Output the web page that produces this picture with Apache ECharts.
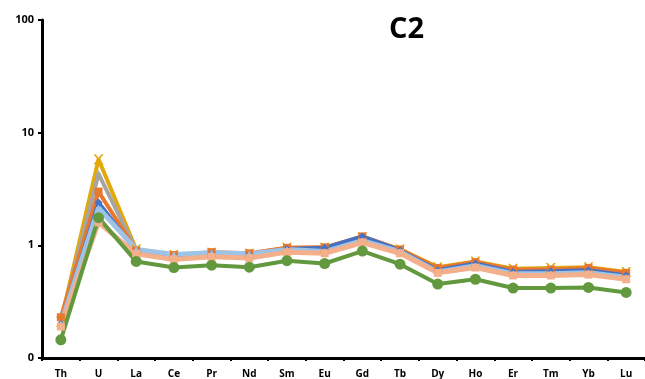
<!DOCTYPE html>
<html><head><meta charset="utf-8">
<script src="https://cdn.jsdelivr.net/npm/echarts@6/dist/echarts.min.js"></script>
<style>html,body{margin:0;padding:0;background:#fff}#c{width:645px;height:379px}</style>
</head><body><div id="c"></div>
<script>
const categories = ['Th','U','La','Ce','Pr','Nd','Sm','Eu','Gd','Tb','Dy','Ho','Er','Tm','Yb','Lu'];
const yellowS = [0.21,5.8,0.92,0.82,0.86,0.84,0.95,0.95,1.18,0.92,0.64,0.72,0.62,0.63,0.64,0.58];
const grayS   = [0.21,4.3,0.90,0.80,0.85,0.83,0.94,0.93,1.17,0.90,0.62,0.70,0.60,0.61,0.62,0.56];
const orangeS = [0.23,3.0,0.90,0.82,0.87,0.85,0.95,0.96,1.20,0.92,0.63,0.71,0.61,0.61,0.63,0.57];
const blueS   = [0.20,2.4,0.88,0.79,0.84,0.82,0.93,0.95,1.20,0.90,0.60,0.69,0.58,0.59,0.60,0.54];
const lblueS  = [0.20,2.15,0.92,0.83,0.86,0.84,0.92,0.88,1.10,0.88,0.58,0.66,0.56,0.56,0.57,0.52];
const greenS  = [0.145,1.76,0.72,0.635,0.667,0.64,0.73,0.69,0.89,0.68,0.453,0.50,0.418,0.418,0.423,0.382];
const salmonS = [0.19,1.6,0.84,0.75,0.79,0.77,0.87,0.85,1.06,0.85,0.57,0.635,0.54,0.54,0.55,0.50];
const yTickLabels = {0.1:'0',1:'1',10:'10',100:'100'};

const xPath = 'path://M0,0L2,0L5,3.5L8,0L10,0L6,5L10,10L8,10L5,6.5L2,10L0,10L4,5Z';
function mk(name, data, color, symbol, size, width){
  return {name, type:'line', data, symbol, symbolSize:size, showSymbol:true,
    lineStyle:{color, width: width||4}, itemStyle:{color}, z:2};
}
const chart = echarts.init(document.getElementById('c'));
chart.setOption({
  animation:false,
  title:{text:'C2', left:384, top:10, textStyle:{fontFamily:'Open Sans', fontWeight:'bold', fontSize:29, color:'#000'}},
  grid:{left:42, right:0, top:20, bottom:21},
  xAxis:{type:'category', data:categories, boundaryGap:true,
    axisLine:{lineStyle:{color:'#000', width:3}},
    axisTick:{show:true, alignWithLabel:false, length:3, lineStyle:{color:'#000', width:2}},
    axisLabel:{color:'#000', fontWeight:'bold', fontFamily:'Open Sans', fontSize:10, margin:11}},
  yAxis:{type:'log', logBase:10, min:0.1, max:100,
    axisLine:{show:true, lineStyle:{color:'#000', width:3}},
    axisTick:{show:true, length:4, lineStyle:{color:'#000', width:2}},
    minorTick:{show:false}, splitLine:{show:false},
    axisLabel:{color:'#000', fontWeight:'bold', fontFamily:'Open Sans', fontSize:11, margin:8,
      formatter:v=>yTickLabels[+v.toPrecision(3)] ?? ''}},
  series:[
    mk('yellow', yellowS, '#E3A90B', xPath, 10),
    mk('gray', grayS, '#A5A5A5', 'triangle', 8),
    mk('orange', orangeS, '#E8782E', 'rect', 8),
    mk('blue', blueS, '#4472C4', 'diamond', 8),
    mk('lblue', lblueS, '#9DC3E6', 'triangle', 7, 5),
    mk('salmon', salmonS, '#F4B08C', 'rect', 8, 5),
    mk('green', greenS, '#62993E', 'circle', 11)
  ]
});
</script></body></html>
